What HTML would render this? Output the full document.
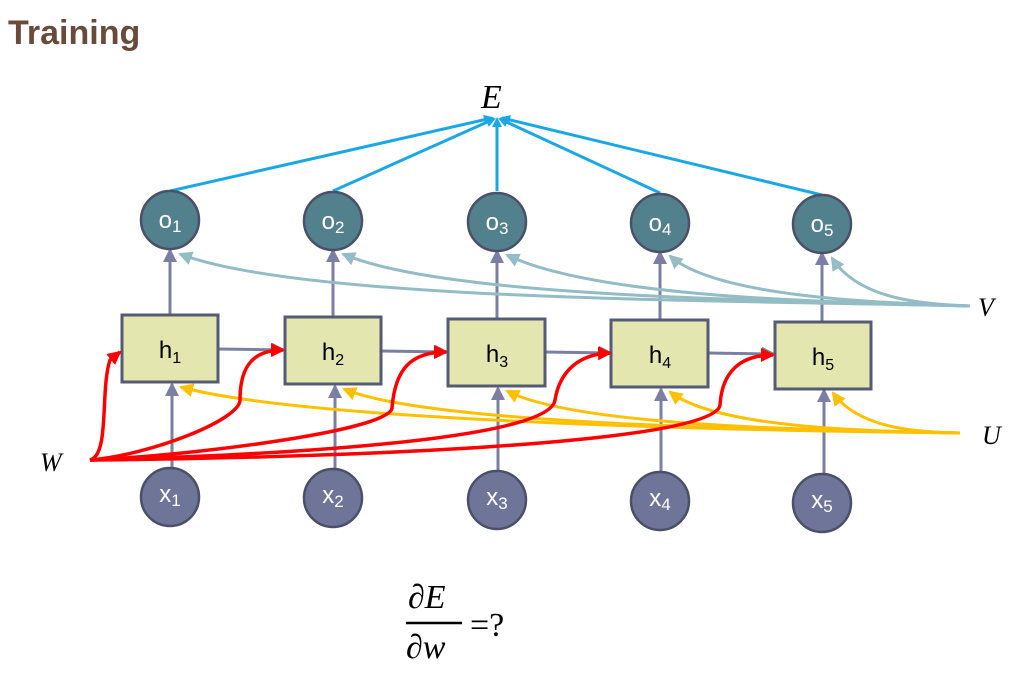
<!DOCTYPE html>
<html><head><meta charset="utf-8"><style>
body{margin:0;background:#fff;width:1014px;height:671px;overflow:hidden;font-family:"Liberation Sans",sans-serif}
</style></head><body>
<svg width="1014" height="671" viewBox="0 0 1014 671" xmlns="http://www.w3.org/2000/svg">
<defs>
<marker id="ab" markerWidth="10" markerHeight="10" refX="8" refY="5" orient="auto" markerUnits="userSpaceOnUse"><path d="M0,0 L10,5 L0,10 z" fill="#1aa7e6"/></marker>
<marker id="ag" markerWidth="14" markerHeight="14" refX="12" refY="7" orient="auto" markerUnits="userSpaceOnUse"><path d="M0,0 L14,7 L0,14 z" fill="#7a7fa3"/></marker>
<marker id="at" markerWidth="14" markerHeight="14" refX="12" refY="7" orient="auto" markerUnits="userSpaceOnUse"><path d="M0,0 L14,7 L0,14 z" fill="#93bcc4"/></marker>
<marker id="ay" markerWidth="14" markerHeight="14" refX="12" refY="7" orient="auto" markerUnits="userSpaceOnUse"><path d="M0,0 L14,7 L0,14 z" fill="#ffc000"/></marker>
<marker id="ar" markerWidth="14" markerHeight="14" refX="12" refY="7" orient="auto" markerUnits="userSpaceOnUse"><path d="M0,0 L14,7 L0,14 z" fill="#f00"/></marker>
</defs>
<text x="8" y="44" font-size="34" font-weight="bold" fill="#6a4a3a">Training</text>
<text x="481" y="108" font-size="34" font-style="italic" font-family="Liberation Serif" fill="#000">E</text>
<g stroke="#1aa7e6" stroke-width="3" fill="none">
<line x1="170" y1="191" x2="492" y2="118" marker-end="url(#ab)"/>
<line x1="333" y1="191" x2="494" y2="119" marker-end="url(#ab)"/>
<line x1="497" y1="191" x2="497" y2="119" marker-end="url(#ab)"/>
<line x1="660" y1="193" x2="500" y2="119" marker-end="url(#ab)"/>
<line x1="822" y1="195" x2="502" y2="118" marker-end="url(#ab)"/>
</g>
<!-- vertical arrows -->
<g stroke="#7a7fa3" stroke-width="3" fill="none">
<line x1="170" y1="315" x2="170" y2="250" marker-end="url(#ag)"/>
<line x1="333" y1="317" x2="333" y2="250" marker-end="url(#ag)"/>
<line x1="497" y1="319" x2="497" y2="251" marker-end="url(#ag)"/>
<line x1="660" y1="320" x2="660" y2="252" marker-end="url(#ag)"/>
<line x1="822" y1="322" x2="822" y2="253" marker-end="url(#ag)"/>
<line x1="172" y1="470" x2="172" y2="384" marker-end="url(#ag)"/>
<line x1="335" y1="470" x2="335" y2="386" marker-end="url(#ag)"/>
<line x1="498" y1="471" x2="498" y2="388" marker-end="url(#ag)"/>
<line x1="661" y1="472" x2="661" y2="389" marker-end="url(#ag)"/>
<line x1="824" y1="473" x2="824" y2="390" marker-end="url(#ag)"/>
<line x1="218" y1="349" x2="284" y2="350" marker-end="url(#ag)"/>
<line x1="381" y1="351" x2="447" y2="352" marker-end="url(#ag)"/>
<line x1="545" y1="352" x2="611" y2="353" marker-end="url(#ag)"/>
<line x1="708" y1="353" x2="774" y2="354" marker-end="url(#ag)"/>
</g>
<!-- V curves -->
<g stroke="#93bcc4" stroke-width="3" fill="none">
<path d="M970,306 C700,300 300,300 180,254" marker-end="url(#at)"/>
<path d="M970,306 C800,300 450,300 343,254" marker-end="url(#at)"/>
<path d="M970,306 C850,302 600,300 507,255" marker-end="url(#at)"/>
<path d="M970,306 C900,303 720,300 670,256" marker-end="url(#at)"/>
<path d="M970,306 C930,304 860,302 832,258" marker-end="url(#at)"/>
</g>
<!-- U curves -->
<g stroke="#ffc000" stroke-width="3" fill="none">
<path d="M960,433 C700,430 300,420 181,387" marker-end="url(#ay)"/>
<path d="M960,433 C780,430 430,425 344,389" marker-end="url(#ay)"/>
<path d="M960,433 C830,430 580,428 507,391" marker-end="url(#ay)"/>
<path d="M960,433 C880,431 720,430 670,392" marker-end="url(#ay)"/>
<path d="M960,433 C920,432 860,430 833,393" marker-end="url(#ay)"/>
</g>
<!-- boxes -->
<g fill="#e3e6ae" stroke="#565b75" stroke-width="3">
<rect x="122" y="315" width="96" height="67"/>
<rect x="285" y="317" width="96" height="67"/>
<rect x="448" y="319" width="97" height="67"/>
<rect x="611" y="320" width="97" height="67"/>
<rect x="775" y="322" width="96" height="67"/>
</g>
<!-- W curves -->
<g stroke="#f00" stroke-width="3.5" fill="none">
<path d="M90,460 C110,455 100,390 110,360 L120,352" marker-end="url(#ar)"/>
<path d="M90,460 C150,455 240,420 240,400 C240,370 250,350 283,350" marker-end="url(#ar)"/>
<path d="M90,460 C200,455 390,430 392,408 C395,370 410,352 446,352" marker-end="url(#ar)"/>
<path d="M90,460 C280,455 550,440 555,400 C560,370 580,354 610,353" marker-end="url(#ar)"/>
<path d="M90,460 C320,458 715,445 720,405 C722,372 740,355 773,355" marker-end="url(#ar)"/>
</g>
<g font-size="24" text-anchor="middle" fill="#000">
<text x="170" y="358">h<tspan font-size="16" dy="5">1</tspan></text>
<text x="333" y="360">h<tspan font-size="16" dy="5">2</tspan></text>
<text x="497" y="362">h<tspan font-size="16" dy="5">3</tspan></text>
<text x="660" y="363">h<tspan font-size="16" dy="5">4</tspan></text>
<text x="823" y="365">h<tspan font-size="16" dy="5">5</tspan></text>
</g>
<g fill="#52818d" stroke="#4a5068" stroke-width="2.5">
<circle cx="170" cy="220" r="29"/><circle cx="333" cy="221" r="29"/><circle cx="497" cy="222" r="29"/><circle cx="660" cy="223" r="29"/><circle cx="822" cy="224" r="29"/>
</g>
<g fill="#6f7599" stroke="#4a5068" stroke-width="2.5">
<circle cx="170" cy="497" r="29"/><circle cx="333" cy="498" r="29"/><circle cx="497" cy="500" r="29"/><circle cx="660" cy="501" r="29"/><circle cx="822" cy="503" r="29"/>
</g>
<g font-size="24" text-anchor="middle" fill="#fff">
<text x="170" y="228">o<tspan font-size="17" dy="4">1</tspan></text>
<text x="333" y="229">o<tspan font-size="17" dy="4">2</tspan></text>
<text x="497" y="230">o<tspan font-size="17" dy="4">3</tspan></text>
<text x="660" y="231">o<tspan font-size="17" dy="4">4</tspan></text>
<text x="822" y="232">o<tspan font-size="17" dy="4">5</tspan></text>
<text x="170" y="502">x<tspan font-size="17" dy="4">1</tspan></text>
<text x="333" y="503">x<tspan font-size="17" dy="4">2</tspan></text>
<text x="497" y="505">x<tspan font-size="17" dy="4">3</tspan></text>
<text x="660" y="506">x<tspan font-size="17" dy="4">4</tspan></text>
<text x="822" y="508">x<tspan font-size="17" dy="4">5</tspan></text>
</g>
<g font-family="Liberation Serif" font-style="italic" font-size="26" fill="#000">
<text x="978" y="316">V</text>
<text x="982" y="444">U</text>
<text x="40" y="471">W</text>
</g>
<g font-family="Liberation Serif" font-size="34" fill="#000">
<text x="408" y="608" font-style="italic">∂E</text>
<line x1="406" y1="623" x2="462" y2="623" stroke="#000" stroke-width="2.5"/>
<text x="406" y="658" font-style="italic">∂w</text>
<text x="470" y="636">=?</text>
</g>
</svg>
</body></html>
